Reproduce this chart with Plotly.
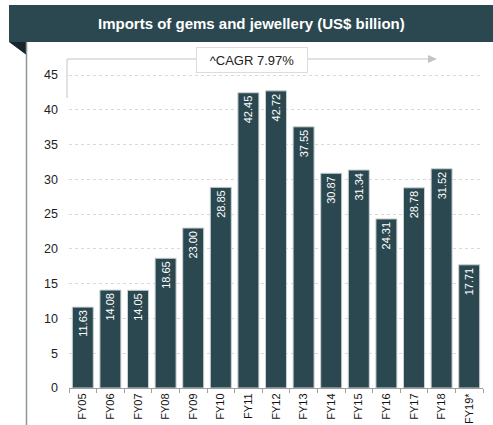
import plotly.graph_objects as go

years = ["FY05", "FY06", "FY07", "FY08", "FY09", "FY10", "FY11", "FY12",
         "FY13", "FY14", "FY15", "FY16", "FY17", "FY18", "FY19*"]
imports = [11.63, 14.08, 14.05, 18.65, 23.00, 28.85, 42.45, 42.72,
           37.55, 30.87, 31.34, 24.31, 28.78, 31.52, 17.71]
y_ticks = [0, 5, 10, 15, 20, 25, 30, 35, 40, 45]
title_text = "Imports of gems and jewellery (US$ billion)"
cagr_text = "^CAGR 7.97%"

W, H = 493, 425
L, R, T, B = 69, 10, 60, 37
PW, PH = W - L - R, H - T - B

def px(x):
    return (x - L) / PW

def py(y):
    return (H - B - y) / PH

BAR = "#2b4850"
FONT = "Liberation Sans, Arial"
fig = go.Figure()
fig.add_trace(go.Bar(
    x=years, y=imports,
    marker=dict(color=BAR, line=dict(color="#c9d1d3", width=1)),
    text=[f"{v:.2f}" for v in imports],
    textposition="inside", insidetextanchor="end", textangle=-90,
    textfont=dict(color="white", size=11, family=FONT),
    cliponaxis=False, hoverinfo="skip",
))

shapes = [
    # header band
    dict(type="rect", xref="paper", yref="paper", x0=px(9), x1=px(493), y0=py(42), y1=py(5),
         fillcolor=BAR, line=dict(width=0), layer="above"),
    # fold triangle
    dict(type="path", xref="paper", yref="paper",
         path=f"M {px(9)},{py(42)} L {px(26.5)},{py(42)} L {px(26.5)},{py(55)} Z",
         fillcolor="#16262b", line=dict(width=0), layer="above"),
    # left border line
    dict(type="line", xref="paper", yref="paper", x0=px(26.5), x1=px(26.5), y0=py(42), y1=py(425),
         line=dict(color="#8a9699", width=1.5)),
    # CAGR bracket
    dict(type="line", xref="paper", yref="paper", x0=px(67), x1=px(67), y0=py(98), y1=py(59),
         line=dict(color="#c4c4c4", width=1)),
    dict(type="line", xref="paper", yref="paper", x0=px(67), x1=px(430), y0=py(59), y1=py(59),
         line=dict(color="#c4c4c4", width=1)),
    dict(type="path", xref="paper", yref="paper",
         path=f"M {px(428)},{py(55)} L {px(437)},{py(59)} L {px(428)},{py(63)} Z",
         fillcolor="#c4c4c4", line=dict(width=0)),
]

annotations = [
    dict(text=f"<b>{title_text}</b>", xref="paper", yref="paper", x=px(251), y=py(23.5),
         showarrow=False, xanchor="center", yanchor="middle",
         font=dict(color="white", size=15, family=FONT)),
    dict(text=cagr_text, xref="paper", yref="paper", x=px(252), y=py(60),
         showarrow=False, xanchor="center", yanchor="middle",
         bgcolor="white", bordercolor="#dcdcdc", borderwidth=1, borderpad=5,
         width=100, height=14,
         font=dict(color="#222222", size=13, family=FONT)),
]

fig.update_layout(
    width=W, height=H,
    margin=dict(l=L, r=R, t=T, b=B, autoexpand=False),
    paper_bgcolor="white", plot_bgcolor="white",
    showlegend=False, bargap=0.24,
    shapes=shapes, annotations=annotations,
    xaxis=dict(showgrid=False, showline=True, linecolor="#a0a0a0", linewidth=1,
               ticks="outside", tickson="boundaries", ticklen=4, tickcolor="#a0a0a0",
               tickangle=-90, automargin=False,
               tickfont=dict(color="#111111", size=11, family=FONT)),
    yaxis=dict(range=[0, (H - B - T) / (313 / 45)], tickvals=y_ticks,
               showgrid=True, gridcolor="#d9d9d9", griddash="dot", gridwidth=1,
               zeroline=False, showline=False, ticks="", automargin=False,
               ticklabelstandoff=10,
               tickfont=dict(color="#222222", size=12.5, family=FONT)),
)

fig.write_html(
    "out.html",
    config={"displayModeBar": False},
    post_script="document.body.style.margin='0';document.documentElement.style.overflow='hidden';",
)
